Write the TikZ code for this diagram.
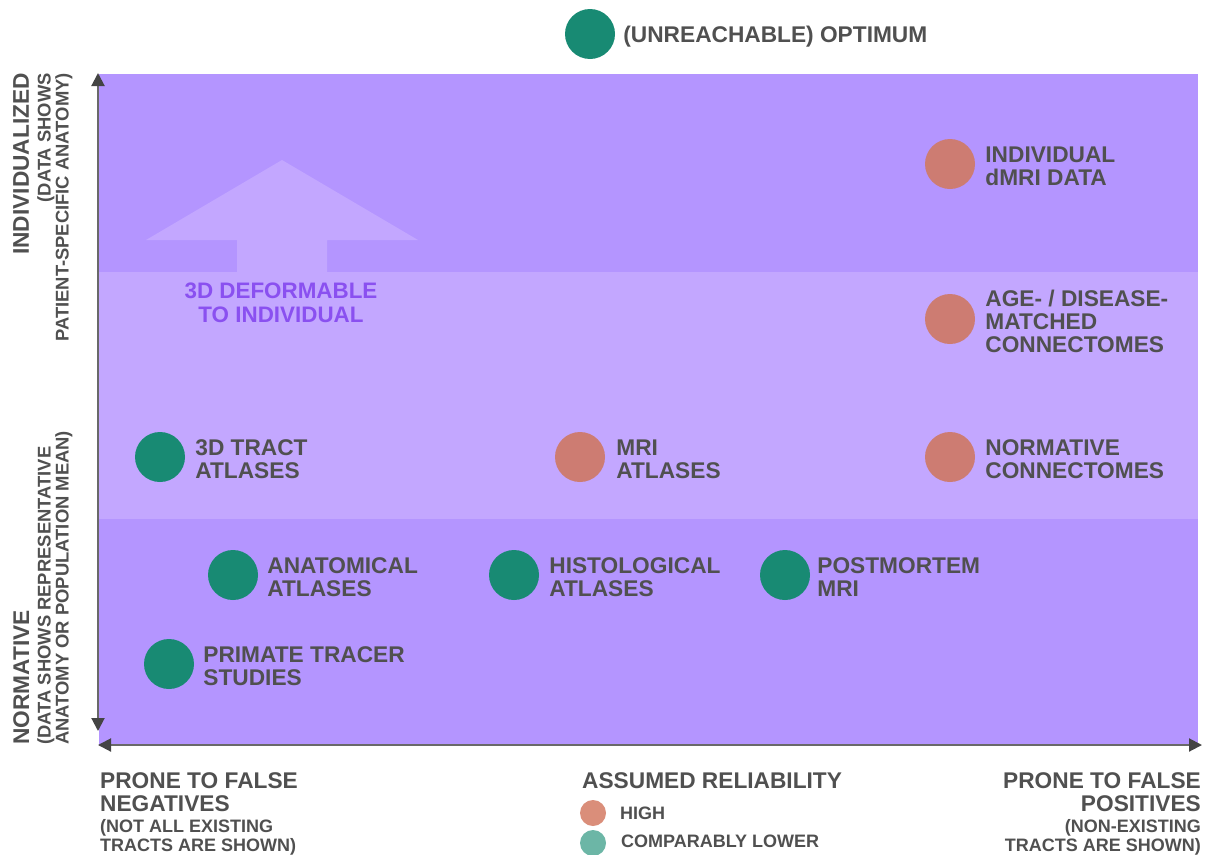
\documentclass[tikz,border=0pt]{standalone}
\usepackage{fontspec}
\setmainfont{Liberation Sans}
\usetikzlibrary{arrows.meta,positioning}
\definecolor{bandDark}{RGB}{180,149,255}
\definecolor{bandLight}{RGB}{195,167,255}
\definecolor{txt}{RGB}{80,80,80}
\definecolor{axisgray}{RGB}{105,105,105}
\definecolor{headgray}{RGB}{68,68,68}
\definecolor{hiRel}{RGB}{205,124,114}
\definecolor{loRel}{RGB}{24,138,115}
\definecolor{hiLeg}{RGB}{218,142,122}
\definecolor{loLeg}{RGB}{108,182,166}
\definecolor{deform}{RGB}{138,80,240}
\begin{document}
\begin{tikzpicture}[x=1pt,y=-1pt,
  dot/.style={circle,minimum size=50pt,inner sep=0pt,draw=none},
  legdot/.style={circle,minimum size=26pt,inner sep=0pt,draw=none},
  lbl/.style={font=\bfseries\fontsize{22.7}{23}\selectfont,text=txt,align=left,inner sep=0pt},
  ptlbl/.style={lbl,anchor=west,yshift=-2pt},
  sublbl/.style={font=\bfseries\fontsize{18}{19}\selectfont,text=txt,inner sep=0pt},
  vsublbl/.style={font=\bfseries\fontsize{18.4}{15}\selectfont,text=txt,inner sep=0pt},
  axline/.style={draw=axisgray,line width=2pt,
    {Triangle[length=13pt,width=13pt,color=headgray]}-{Triangle[length=13pt,width=13pt,color=headgray]}}
]
\useasboundingbox (0,0) rectangle (1207,854);
% bands
\fill[bandDark] (99,74) rectangle (1198,272);
\fill[bandLight] (99,272) rectangle (1198,519);
\fill[bandDark] (99,519) rectangle (1198,745);
% big arrow
\fill[bandLight] (237,272) -- (237,240) -- (146,240) -- (282,160) -- (418,240) -- (327,240) -- (327,272) -- cycle;
\node[font=\bfseries\fontsize{22.4}{24}\selectfont,text=deform,align=center,inner sep=0pt] (deftxt) at (281,302.5) {3D DEFORMABLE\\TO INDIVIDUAL};
% axes
\coordinate (ytop) at (98,73);
\coordinate (ybot) at (98,731);
\coordinate (xl) at (98,745);
\coordinate (xr) at (1202,745);
\draw[axline] (ybot) -- (ytop);
\draw[axline] (xl) -- (xr);
% axis labels (vertical)
\node[lbl,rotate=90,anchor=north east,align=right] (indiv) at (13,73) {INDIVIDUALIZED};
\node[vsublbl,rotate=90,anchor=north east,align=right] (indivsub) at (37,73) {(DATA SHOWS\\PATIENT-SPECIFIC ANATOMY)};
\node[lbl,rotate=90,anchor=north west,align=left] (norm) at (13,745) {NORMATIVE};
\node[vsublbl,rotate=90,anchor=north west,align=left] (normsub) at (37,745) {(DATA SHOWS REPRESENTATIVE\\ANATOMY OR POPULATION MEAN)};
% axis labels (horizontal)
\node[lbl,anchor=north west] (fneg) at (100,772) {PRONE TO FALSE\\NEGATIVES};
\node[sublbl,anchor=north west,align=left] (fnegsub) at (100,819) {(NOT ALL EXISTING\\TRACTS ARE SHOWN)};
\node[lbl,anchor=north east,align=right] (fpos) at (1201,772) {PRONE TO FALSE\\POSITIVES};
\node[sublbl,anchor=north east,align=right] (fpossub) at (1201,819) {(NON-EXISTING\\TRACTS ARE SHOWN)};
% legend
\node[lbl,anchor=north west] (legtitle) at (582,772) {ASSUMED RELIABILITY};
\node[legdot,fill=hiLeg] (leghi) at (593,813) {};
\node[sublbl,anchor=west] (leghitxt) at (620,813.5) {HIGH};
\node[legdot,fill=loLeg] (leglo) at (593,843) {};
\node[sublbl,anchor=west] (leglotxt) at (621,841.5) {COMPARABLY LOWER};
% optimum
\node[dot,fill=loRel] (opt) at (590,34) {};
\node[lbl,anchor=west,right=8pt of opt,yshift=-2.5pt] (opttxt) {(UNREACHABLE) OPTIMUM};
% data points
\node[dot,fill=hiRel] (cInd) at (950,164) {};
\node[ptlbl,right=10pt of cInd] (tInd) {INDIVIDUAL\\dMRI DATA};
\node[dot,fill=hiRel] (cAge) at (950,319) {};
\node[ptlbl,right=10pt of cAge] (tAge) {AGE- / DISEASE-\\MATCHED\\CONNECTOMES};
\node[dot,fill=hiRel] (cNC) at (950,457) {};
\node[ptlbl,right=10pt of cNC] (tNC) {NORMATIVE\\CONNECTOMES};
\node[dot,fill=hiRel] (cMRI) at (580,457) {};
\node[ptlbl,right=11pt of cMRI] (tMRI) {MRI\\ATLASES};
\node[dot,fill=loRel] (cTract) at (160,457) {};
\node[ptlbl,right=10pt of cTract] (tTract) {3D TRACT\\ATLASES};
\node[dot,fill=loRel] (cAnat) at (233,575) {};
\node[ptlbl,right=9pt of cAnat] (tAnat) {ANATOMICAL\\ATLASES};
\node[dot,fill=loRel] (cHist) at (514,575) {};
\node[ptlbl,right=10pt of cHist] (tHist) {HISTOLOGICAL\\ATLASES};
\node[dot,fill=loRel] (cPM) at (785,575) {};
\node[ptlbl,right=7pt of cPM] (tPM) {POSTMORTEM\\MRI};
\node[dot,fill=loRel] (cPrim) at (169,664) {};
\node[ptlbl,right=9pt of cPrim] (tPrim) {PRIMATE TRACER\\STUDIES};
\end{tikzpicture}
\end{document}
